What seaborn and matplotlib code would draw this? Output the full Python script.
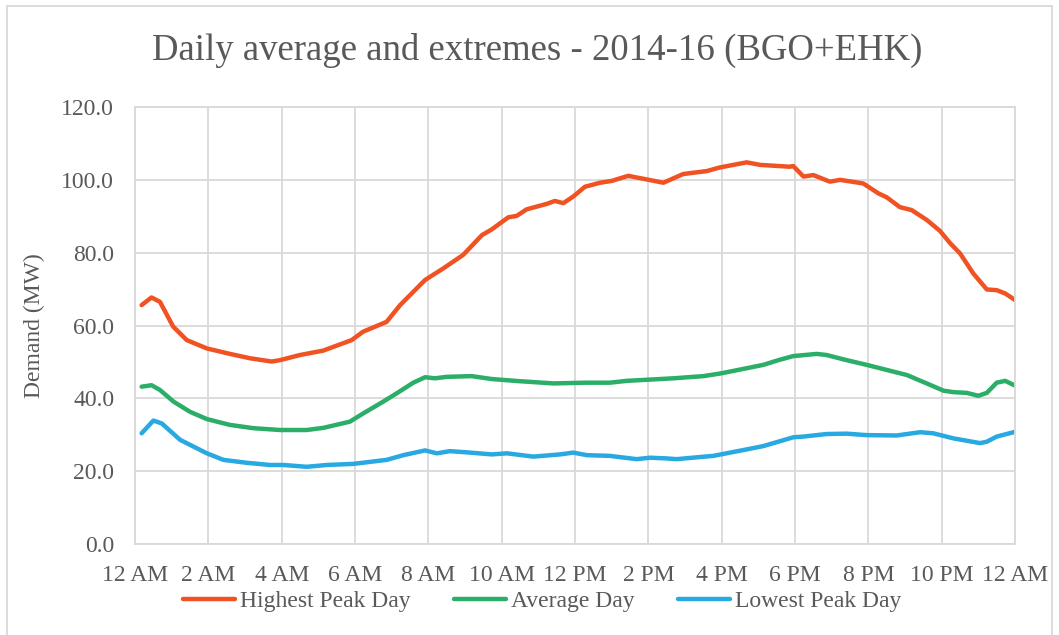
import numpy as np
import pandas as pd
import matplotlib
matplotlib.use("Agg")
import matplotlib.pyplot as plt
import seaborn as sns

# Hours of the day (0 = 12 AM) and demand in MW
high_hours = [0.18, 0.45, 0.68, 1.04, 1.41, 1.96, 2.59, 3.14, 3.73, 3.96, 4.5, 5.13,
              5.91, 6.22, 6.86, 7.23, 7.91, 8.41, 8.95, 9.46, 9.73, 10.18, 10.41,
              10.68, 11.23, 11.45, 11.68, 11.95, 12.27, 12.68, 13.0, 13.45, 13.96,
              14.41, 14.95, 15.59, 15.95, 16.68, 17.05, 17.86, 17.95, 18.23, 18.5,
              18.95, 19.23, 19.86, 20.27, 20.5, 20.86, 21.18, 21.59, 21.95, 22.23,
              22.5, 22.86, 23.23, 23.5, 23.73, 24.0]
high_mw = [65.6, 67.7, 66.5, 59.7, 56.0, 53.7, 52.2, 51.0, 50.1, 50.5, 51.9, 53.1,
           56.0, 58.3, 61.0, 65.6, 72.5, 75.7, 79.4, 84.8, 86.4, 89.7, 90.1,
           91.9, 93.4, 94.2, 93.6, 95.4, 98.1, 99.2, 99.7, 101.1, 100.1,
           99.2, 101.6, 102.4, 103.4, 104.8, 104.1, 103.6, 103.8, 100.9, 101.3,
           99.5, 100.0, 99.0, 96.3, 95.2, 92.5, 91.7, 89.0, 86.0, 82.6,
           79.8, 74.3, 69.9, 69.7, 68.8, 67.0]

avg_hours = [0.18, 0.45, 0.68, 1.05, 1.5, 1.96, 2.59, 3.23, 3.96, 4.68, 5.14, 5.86,
             6.23, 6.77, 7.14, 7.59, 7.91, 8.18, 8.5, 9.18, 9.73, 10.5, 11.41,
             12.32, 12.95, 13.41, 14.14, 14.68, 15.5, 15.95, 16.5, 17.14, 17.55,
             17.95, 18.59, 18.86, 19.32, 19.95, 20.5, 21.05, 21.59, 22.05, 22.32,
             22.68, 23.0, 23.23, 23.5, 23.73, 24.0]
avg_mw = [43.2, 43.6, 42.3, 39.1, 36.3, 34.3, 32.7, 31.8, 31.3, 31.3, 31.9, 33.6,
          35.9, 39.1, 41.4, 44.3, 45.8, 45.5, 45.9, 46.1, 45.3, 44.7, 44.1,
          44.3, 44.3, 44.8, 45.2, 45.5, 46.1, 46.8, 47.9, 49.2, 50.5,
          51.6, 52.2, 51.9, 50.7, 49.2, 47.8, 46.4, 44.1, 42.1, 41.7,
          41.5, 40.7, 41.5, 44.3, 44.8, 43.5]

low_hours = [0.18, 0.5, 0.73, 1.23, 1.96, 2.41, 3.05, 3.68, 4.05, 4.68, 5.23, 5.95,
             6.86, 7.32, 7.91, 8.23, 8.59, 9.14, 9.73, 10.14, 10.86, 11.59, 11.95,
             12.32, 12.95, 13.68, 14.05, 14.5, 14.77, 15.32, 15.77, 16.59, 17.14,
             17.95, 18.23, 18.86, 19.41, 19.95, 20.77, 21.41, 21.77, 22.32, 23.05,
             23.23, 23.5, 24.0]
low_mw = [30.4, 33.9, 33.1, 28.6, 24.9, 23.1, 22.3, 21.7, 21.7, 21.2, 21.7, 22.0,
          23.1, 24.4, 25.7, 24.9, 25.5, 25.1, 24.6, 24.9, 24.0, 24.6, 25.1,
          24.4, 24.2, 23.3, 23.7, 23.5, 23.3, 23.8, 24.2, 25.8, 26.9,
          29.3, 29.5, 30.2, 30.3, 29.9, 29.8, 30.7, 30.4, 29.0, 27.7,
          28.1, 29.5, 30.8]

series_names = ["Highest Peak Day", "Average Day", "Lowest Peak Day"]
colors = ["#F05223", "#2AAE68", "#29A9E1"]
tick_hours = list(range(0, 25, 2))
tick_labels = ["12 AM", "2 AM", "4 AM", "6 AM", "8 AM", "10 AM", "12 PM",
               "2 PM", "4 PM", "6 PM", "8 PM", "10 PM", "12 AM"]

df = pd.concat([
    pd.DataFrame({"hour": high_hours, "mw": high_mw, "series": series_names[0]}),
    pd.DataFrame({"hour": avg_hours, "mw": avg_mw, "series": series_names[1]}),
    pd.DataFrame({"hour": low_hours, "mw": low_mw, "series": series_names[2]}),
])

sns.set_style("white")
plt.rcParams["font.family"] = ["Liberation Serif", "DejaVu Serif"]
txt = "#595959"
grid = "#D9D9D9"

fig = plt.figure(figsize=(10.59, 6.35), dpi=100)
ax = fig.add_axes([0.1275, 0.1433, 0.831, 0.6882])

sns.lineplot(data=df, x="hour", y="mw", hue="series", hue_order=series_names,
             palette=dict(zip(series_names, colors)), linewidth=3.2, ax=ax,
             legend=False, estimator=None, sort=False)

ax.set_xlim(0, 24)
ax.set_ylim(0, 120)
ax.set_xticks(tick_hours)
ax.set_xticklabels(tick_labels)
ax.set_yticks(np.arange(0, 121, 20))
ax.set_yticklabels([f"{v:.1f}" for v in np.arange(0, 121, 20)])
ax.tick_params(axis="x", labelsize=17, colors=txt, length=0, pad=15)
ax.tick_params(axis="y", labelsize=17, colors=txt, length=0, pad=15)
ax.grid(True, color=grid, linewidth=1.3)
ax.set_axisbelow(True)
for s in ax.spines.values():
    s.set_color(grid)
    s.set_linewidth(1.3)

ax.set_xlabel("")
ax.set_ylabel("Demand (MW)", fontsize=17, color=txt, labelpad=12)
fig.suptitle("Daily average and extremes - 2014-16 (BGO+EHK)", fontsize=26.5,
             color=txt, x=0.507, y=0.948)

handles = [plt.Line2D([], [], color=c, linewidth=3.2) for c in colors]
fig.legend(handles, series_names, loc="center", bbox_to_anchor=(0.512, 0.053),
           ncol=3, frameon=False, fontsize=17, handlelength=2.2,
           columnspacing=1.8, handletextpad=0.25, labelcolor=txt)

fig.patches.append(plt.Rectangle((0.0066, -0.01), 0.987, 1.0006, transform=fig.transFigure,
                                 fill=False, edgecolor=grid, linewidth=1.3))

fig.savefig("out.png", dpi=100)
